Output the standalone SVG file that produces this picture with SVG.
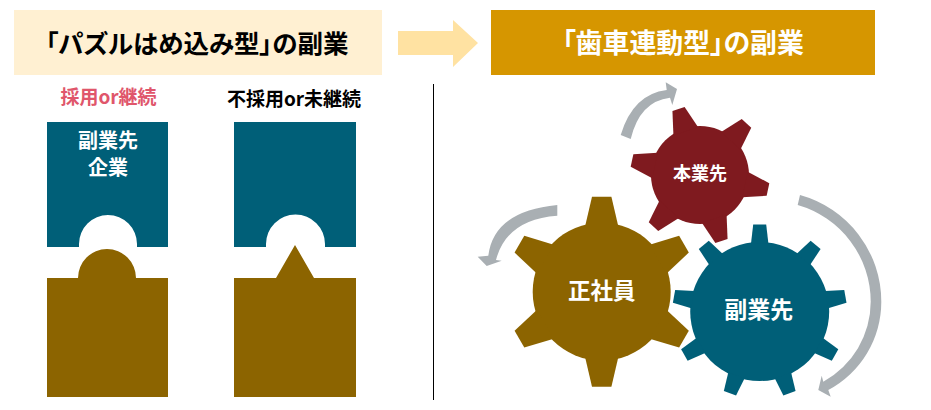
<svg xmlns="http://www.w3.org/2000/svg" xmlns:xlink="http://www.w3.org/1999/xlink" width="931" height="410" viewBox="0 0 931 410">
<style>
text{font-family:"Noto Sans CJK JP","Liberation Sans",sans-serif;font-weight:700;text-anchor:middle;font-feature-settings:"palt";dominant-baseline:central}
.w{fill:#fff}
.teal{fill:#005F78}
.brown{fill:#8C6400}
.red{fill:#7F1A1F}
.grey{fill:#A9AFB3}
</style>
<defs>
<polygon id="tb" points="-16.7,-65 -9.7,-95 9.7,-95 16.7,-65"/>
<polygon id="tt" points="-8.7,-68 -6.5,-87 6.5,-87 8.7,-68"/>
<polygon id="tr" points="-13,-46 -6.4,-69.5 6.4,-69.5 13,-46"/>
</defs>
<rect width="931" height="410" fill="#fff"/>
<g id="header-left">
<rect x="14" y="10" width="368" height="65" fill="#FFF0D2"/>
<text x="197" y="41" font-size="25.500" fill="#000">「パズルはめ込み型」の副業</text>
</g>
<g id="header-arrow">
<polygon points="398,31 453,31 453,20 478,43 453,67 453,55 398,55" fill="#FFE2A2"/>
</g>
<g id="header-right">
<rect x="491" y="10" width="384" height="65" fill="#D69600"/>
<text x="683" y="41" font-size="26.900" fill="#fff">「歯車連動型」の副業</text>
</g>
<g id="label-adopted"><text x="108.500" y="95" font-size="19" fill="#E0566B">採用or継続</text></g>
<g id="label-rejected"><text x="294" y="97" font-size="19" fill="#000">不採用or未継続</text></g>
<g id="piece-teal-1">
<path class="teal" d="M47 122H168V247H137V244A29 29 0 0 0 79 244V247H47Z"/>
<text class="w" x="108" y="139.500" font-size="20">副業先</text>
<text class="w" x="108" y="166" font-size="20">企業</text>
</g>
<g id="piece-brown-1">
<path class="brown" d="M47 278H78A29 29 0 0 1 136 278H168V397H47Z"/>
</g>
<g id="piece-teal-2">
<path class="teal" d="M234 122H356V247H325V244A29.500 29.500 0 0 0 266 244V247H234Z"/>
</g>
<g id="piece-brown-2">
<path class="brown" d="M234 278H276L295 245L314 278H356V397H234Z"/>
</g>
<line id="divider" x1="433.500" y1="84" x2="433.500" y2="400" stroke="#000" stroke-width="1"/>
<g id="connectors">
<path class="grey" d="M620.700 135Q633 94 666.700 90L665.700 82.300L677 89L672.300 105L670 97.700Q639.700 101.300 630.700 139Z"/>
<path class="grey" d="M557.300 205Q494 211 488.300 255.700L477.700 256.700L486.700 266L501.700 260.700L496 260Q506.700 219.300 557.300 215.700Z"/>
<path class="grey" d="M800 195A110.700 110.700 0 0 1 881.300 301.700A100 100 0 0 1 828.300 390L830.700 396.700L818.300 390L821.700 375.700L823.300 381.700A91.200 91.200 0 0 0 870.700 301.700A100.700 100.700 0 0 0 797.700 205Z"/>
</g>
<g id="gear-red" class="red" transform="translate(700 175)">
<circle r="49"/>
<use xlink:href="#tr" transform="rotate(-18)"/>
<use xlink:href="#tr" transform="rotate(42)"/>
<use xlink:href="#tr" transform="rotate(102)"/>
<use xlink:href="#tr" transform="rotate(162)"/>
<use xlink:href="#tr" transform="rotate(222)"/>
<use xlink:href="#tr" transform="rotate(282)"/>
<text class="w" x="0" y="-3" font-size="18">本業先</text>
</g>
<g id="gear-brown" class="brown" transform="translate(601.700 291.700)">
<circle r="69"/>
<use xlink:href="#tb"/>
<use xlink:href="#tb" transform="rotate(60)"/>
<use xlink:href="#tb" transform="rotate(120)"/>
<use xlink:href="#tb" transform="rotate(180)"/>
<use xlink:href="#tb" transform="rotate(240)"/>
<use xlink:href="#tb" transform="rotate(300)"/>
<text class="w" x="0" y="-2.500" font-size="22.500">正社員</text>
</g>
<g id="gear-teal" class="teal" transform="translate(759.700 311.500)">
<circle r="69.500"/>
<use xlink:href="#tt"/>
<use xlink:href="#tt" transform="rotate(40)"/>
<use xlink:href="#tt" transform="rotate(80)"/>
<use xlink:href="#tt" transform="rotate(120)"/>
<use xlink:href="#tt" transform="rotate(160)"/>
<use xlink:href="#tt" transform="rotate(200)"/>
<use xlink:href="#tt" transform="rotate(240)"/>
<use xlink:href="#tt" transform="rotate(280)"/>
<use xlink:href="#tt" transform="rotate(320)"/>
<text class="w" x="-1" y="-4" font-size="23">副業先</text>
</g>
</svg>
